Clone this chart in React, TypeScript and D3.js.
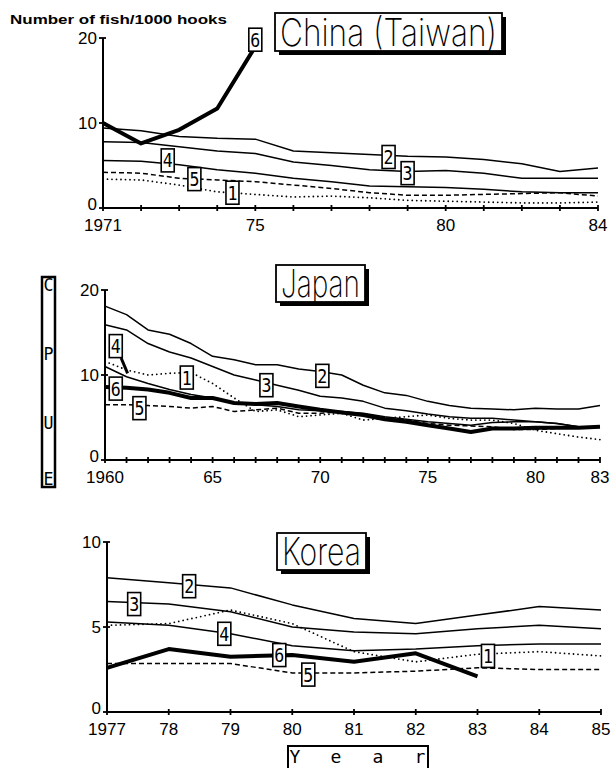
import React from 'react';
import * as d3 from 'd3';

// China (Taiwan) 1971-84
const twYears = d3.range(1971, 1985);
const tw1 = [3.4, 3.3, 2.7, 1.9, 1.6, 1.3, 1.4, 1.2, 0.9, 0.8, 0.7, 0.6, 0.6, 0.7];
const tw2 = [9.4, 9.1, 8.4, 8.2, 8.1, 6.7, 6.5, 6.3, 6.1, 6.0, 5.7, 5.2, 4.3, 4.7];
const tw3 = [7.8, 7.7, 7.2, 6.7, 6.4, 5.4, 5.0, 4.5, 4.3, 4.4, 4.1, 3.5, 3.5, 3.5];
const tw4 = [5.6, 5.5, 5.1, 4.5, 4.1, 3.5, 3.1, 2.6, 2.5, 2.4, 2.2, 1.9, 1.8, 1.8];
const tw5 = [4.2, 4.1, 3.5, 3.3, 3.1, 2.7, 2.3, 1.8, 1.5, 1.5, 1.6, 1.7, 1.8, 1.4];
const tw6 = [10.0, 7.6, 9.2, 11.7, 19.0];
const twLabels: [number, string][] = [[1971, '1971'], [1975, '75'], [1980, '80'], [1984, '84']];
// marker id, year, value
const twMarks: [string, number, number][] = [
  ['6', 1975, 19.8], ['4', 1972.7, 5.6], ['5', 1973.4, 3.4],
  ['1', 1974.4, 1.8], ['2', 1978.5, 6.0], ['3', 1979.0, 4.1],
];

// Japan 1960-83
const jpYears = d3.range(1960, 1984);
const jp1 = [11.6, 10.6, 10.0, 10.2, 10.3, 9.0, 7.3, 5.7, 5.9, 5.1, 5.3, 5.5, 4.7, 4.9, 5.1, 5.3, 4.9, 4.7, 4.7, 4.3, 3.5, 3.1, 2.7, 2.4];
const jp2 = [18.1, 17.1, 15.3, 14.8, 13.7, 12.2, 11.8, 11.2, 11.2, 10.7, 10.4, 10.0, 8.8, 7.9, 7.6, 6.9, 6.4, 6.1, 6.0, 5.9, 6.1, 6.0, 6.0, 6.4];
const jp3 = [15.9, 15.3, 13.7, 12.7, 12.0, 11.0, 10.0, 9.4, 8.8, 8.2, 7.5, 7.3, 6.9, 6.1, 5.8, 5.4, 5.1, 4.9, 4.9, 4.7, 4.5, 4.3, 3.9, 3.9];
const jp4 = [11.0, 9.8, 9.0, 8.3, 7.7, 7.3, 6.7, 6.5, 6.3, 5.9, 5.8, 5.7, 5.5, 5.1, 4.8, 4.5, 4.3, 4.1, 4.4, 4.5, 4.5, 4.3, 3.9, 3.9];
const jp5 = [6.5, 6.5, 6.4, 6.3, 6.1, 6.3, 5.7, 5.9, 6.1, 5.5, 5.5, 5.7, 5.3, 4.9, 4.7, 4.3, 4.1, 4.0, 3.9, 3.6, 3.6, 3.7, 3.9, 3.9];
const jp6 = [8.6, 8.5, 8.3, 7.9, 7.3, 7.3, 6.7, 6.6, 6.7, 6.3, 5.9, 5.6, 5.3, 4.8, 4.5, 4.1, 3.7, 3.3, 3.7, 3.7, 3.8, 3.8, 3.8, 3.9];
const jpLabels: [number, string][] = [[1960, '1960'], [1965, '65'], [1970, '70'], [1975, '75'], [1980, '80'], [1983, '83']];
const jpMarks: [string, number, number][] = [
  ['4', 1960.5, 13.4], ['6', 1960.5, 8.4], ['5', 1961.6, 6.1],
  ['1', 1963.8, 9.7], ['3', 1967.5, 8.8], ['2', 1970.1, 9.9],
];
const jpPointer: [number, number][] = [[1960.75, 12.0], [1961.05, 10.2]];

// Korea 1977-85
const krYears = d3.range(1977, 1986);
const kr1 = [5.1, 5.2, 6.0, 5.2, 3.55, 2.95, 3.4, 3.55, 3.3];
const kr2 = [7.9, 7.6, 7.3, 6.3, 5.5, 5.2, 5.7, 6.2, 6.0];
const kr3 = [6.5, 6.35, 5.9, 5.0, 4.7, 4.6, 4.9, 5.1, 4.9];
const kr4 = [5.3, 5.1, 4.6, 3.9, 3.6, 3.7, 3.9, 4.0, 4.0];
const kr5 = [2.85, 2.85, 2.85, 2.3, 2.3, 2.4, 2.6, 2.5, 2.5];
const kr6 = [2.6, 3.7, 3.25, 3.35, 2.95, 3.45, 2.1];
const krLabels: [number, string][] = [[1977, '1977'], [1978, '78'], [1979, '79'], [1980, '80'], [1981, '81'], [1982, '82'], [1983, '83'], [1984, '84'], [1985, '85']];
const krMarks: [string, number, number][] = [
  ['3', 1977.44, 6.35], ['2', 1978.33, 7.4], ['4', 1978.9, 4.6],
  ['6', 1979.79, 3.35], ['5', 1980.26, 2.2], ['1', 1983.17, 3.3],
];

const tickFont = '"Liberation Sans Narrow", "Liberation Sans", Arial, sans-serif';
const monoFont = '"DejaVu Sans Mono", "Liberation Mono", monospace';
const titleFont = 'Inter, "DejaVu Sans", sans-serif';

// series 1 dotted, 2-4 solid, 5 dashed, 6 thick
const styleFor = (i: number) => {
  if (i === 0) return { strokeWidth: 1.8, strokeDasharray: '0 4.5', strokeLinecap: 'round' as const };
  if (i === 4) return { strokeWidth: 1.5, strokeDasharray: '5 3' };
  if (i === 5) return { strokeWidth: 4 };
  return { strokeWidth: 1.5 };
};

type PanelProps = {
  years: number[];
  series: number[][];
  xRange: [number, number];
  yRange: [number, number];
  yMax: number;
  yTicks: number[];
  xLabels: [number, string][];
  marks: [string, number, number][];
  title: string;
  box: [number, number, number, number];
  pointer?: [number, number][];
};

const Panel = ({ years, series, xRange, yRange, yMax, yTicks, xLabels, marks, title, box, pointer }: PanelProps) => {
  const x = d3.scaleLinear().domain([years[0], years[years.length - 1]]).range(xRange);
  const y = d3.scaleLinear().domain([0, yMax]).range(yRange);
  const line = d3.line<[number, number]>().x((d) => x(d[0])).y((d) => y(d[1]));
  const [bx, by, bw, bh] = box;
  const x0 = x(years[0]);
  const y0 = y(0);

  return (
    <g>
      {/* title box with shadow */}
      <rect x={bx + 4} y={by + 4} width={bw} height={bh} fill="#000" />
      <rect x={bx} y={by} width={bw} height={bh} fill="#fff" stroke="#000" strokeWidth={1.8} />
      <text x={bx + bw / 2} y={by + bh - 5} textAnchor="middle" fontFamily={titleFont} fontWeight={250}
        fontSize={38} textLength={bw - 10} lengthAdjust="spacingAndGlyphs">{title}</text>

      {/* series */}
      {series.map((s, i) => (
        <path key={i} d={line(s.map((v, j) => [years[j], v] as [number, number])) || ''}
          fill="none" stroke="#000" strokeLinejoin="round" {...styleFor(i)} />
      ))}
      {pointer && <path d={line(pointer) || ''} stroke="#000" strokeWidth={3} fill="none" />}

      {/* axes */}
      <line x1={x0} x2={x(years[years.length - 1])} y1={y0} y2={y0} stroke="#000" strokeWidth={2} />
      <line x1={x0} x2={x0} y1={y0} y2={y(yMax)} stroke="#000" strokeWidth={2} />
      {years.map((yr) => (
        <line key={yr} x1={x(yr)} x2={x(yr)} y1={y0 - 3} y2={y0 + 3} stroke="#000" strokeWidth={1.8} />
      ))}
      {yTicks.map((t) => (
        <g key={t}>
          <line x1={x0 - 4} x2={x0 + 3} y1={y(t)} y2={y(t)} stroke="#000" strokeWidth={1.8} />
          <text x={x0 - 6} y={y(t) + (t === 0 ? 2 : 6)} textAnchor="end" fontFamily={tickFont} fontSize={17}>{t}</text>
        </g>
      ))}
      {xLabels.map(([yr, lab]) => (
        <text key={yr} x={x(yr)} y={y0 + 23} textAnchor="middle" fontFamily={tickFont} fontSize={17}>{lab}</text>
      ))}

      {/* series markers */}
      {marks.map(([id, yr, v], i) => (
        <g key={i}>
          <rect x={x(yr) - 6.5} y={y(v) - 11.5} width={13} height={23} fill="#fff" stroke="#000" strokeWidth={1.6} />
          <text x={x(yr)} y={y(v) + 7} textAnchor="middle" fontFamily={monoFont} fontSize={19}
            textLength={10} lengthAdjust="spacingAndGlyphs">{id}</text>
        </g>
      ))}
    </g>
  );
};

const App = () => {
  const cpue = ['C', 'P', 'U', 'E'];
  const yearLetters = ['Y', 'e', 'a', 'r'];
  return (
    <svg width={613} height={768} viewBox="0 0 613 768"
      style={{ position: 'absolute', left: 0, top: 0, background: '#fff' }}>
      <rect width={613} height={768} fill="#fff" />
      <text x={10} y={24} fontFamily='"Liberation Sans", Arial, sans-serif' fontWeight="bold" fontSize={13}
        textLength={217} lengthAdjust="spacingAndGlyphs">Number of fish/1000 hooks</text>

      <Panel years={twYears} series={[tw1, tw2, tw3, tw4, tw5, tw6]} xRange={[103, 598]} yRange={[208, 38]}
        yMax={20} yTicks={[0, 10, 20]} xLabels={twLabels} marks={twMarks} title="China (Taiwan)" box={[275, 13, 227, 38]} />
      <Panel years={jpYears} series={[jp1, jp2, jp3, jp4, jp5, jp6]} xRange={[105, 600]} yRange={[460, 290]}
        yMax={20} yTicks={[0, 10, 20]} xLabels={jpLabels} marks={jpMarks} title="Japan" box={[276, 265, 89, 37]}
        pointer={jpPointer} />
      <Panel years={krYears} series={[kr1, kr2, kr3, kr4, kr5, kr6]} xRange={[107, 601]} yRange={[712, 542]}
        yMax={10} yTicks={[0, 5, 10]} xLabels={krLabels} marks={krMarks} title="Korea" box={[277, 533, 89, 37]} />

      {/* CPUE vertical label */}
      <rect x={42} y={277} width={13} height={210} fill="#fff" stroke="#000" strokeWidth={2.5} />
      {cpue.map((c, i) => (
        <text key={c} x={48.5} y={[291, 360, 429, 485][i]} textAnchor="middle" fontFamily={monoFont}
          fontSize={17} textLength={10} lengthAdjust="spacingAndGlyphs">{c}</text>
      ))}

      {/* Year label */}
      <rect x={288} y={746} width={140} height={30} fill="#fff" stroke="#000" strokeWidth={2} />
      {yearLetters.map((c, i) => (
        <text key={c} x={[295, 336, 378, 420][i]} y={763} textAnchor="middle" fontFamily={monoFont}
          fontSize={18}>{c}</text>
      ))}
    </svg>
  );
};

export default App;
